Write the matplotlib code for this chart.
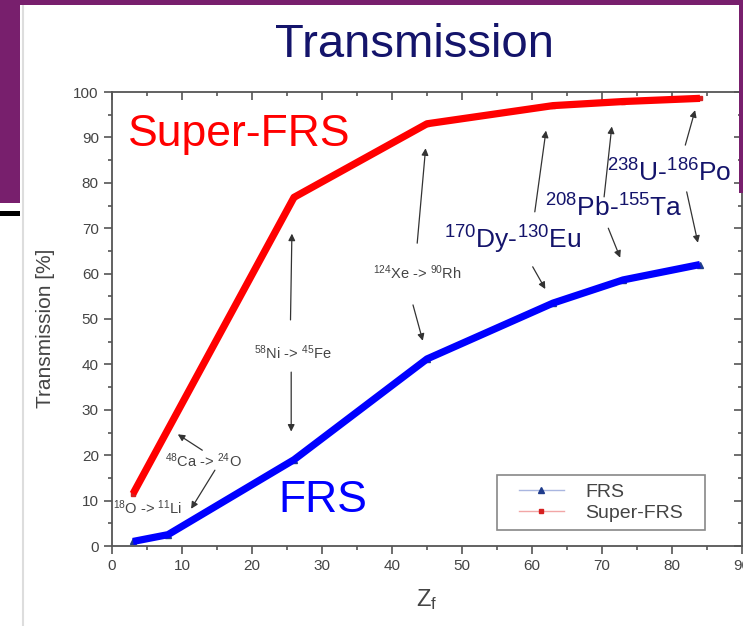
import matplotlib
matplotlib.use("Agg")
import matplotlib.pyplot as plt
from matplotlib.patches import Rectangle
from matplotlib.lines import Line2D
from matplotlib.ticker import MultipleLocator

plt.rcParams["font.family"] = ["Liberation Sans", "DejaVu Sans"]
plt.rcParams["mathtext.fontset"] = "custom"
plt.rcParams["mathtext.rm"] = "Liberation Sans"
plt.rcParams["mathtext.it"] = "Liberation Sans:italic"
plt.rcParams["mathtext.bf"] = "Liberation Sans:bold"

# transmission vs. fragment charge
z_frs = [3, 8, 26, 45, 63, 73, 84]
t_frs = [1.0, 2.5, 19.0, 41.2, 53.5, 58.6, 62.0]
z_super = [3, 26, 45, 63, 73, 84]
t_super = [11.5, 76.8, 93.0, 97.0, 97.9, 98.6]

# reaction labels: (text, x, y) and arrows: (x_tail, y_tail, x_head, y_head)
small_labels = [
    (r"$^{18}$O -> $^{11}$Li", 0.2, 7.0),
    (r"$^{48}$Ca -> $^{24}$O", 7.6, 17.4),
    (r"$^{58}$Ni -> $^{45}$Fe", 20.3, 41.2),
    (r"$^{124}$Xe -> $^{90}$Rh", 37.3, 58.8),
]
big_labels = [
    (r"$^{170}$Dy-$^{130}$Eu", 47.4, 65.4),
    (r"$^{208}$Pb-$^{155}$Ta", 61.9, 72.6),
    (r"$^{238}$U-$^{186}$Po", 70.7, 80.2),
]
arrows = [
    (12.9, 21.1, 9.4, 24.6),
    (14.7, 16.7, 11.3, 8.2),
    (25.5, 49.8, 25.7, 68.8),
    (25.6, 38.3, 25.6, 25.2),
    (43.6, 66.7, 44.8, 87.6),
    (43.0, 53.1, 44.4, 45.2),
    (60.4, 73.6, 62.0, 91.5),
    (60.1, 61.5, 61.9, 56.6),
    (70.3, 76.9, 71.4, 92.4),
    (70.9, 70.0, 72.6, 63.5),
    (81.9, 88.3, 83.3, 96.0),
    (82.1, 78.0, 83.7, 66.8),
]

PURPLE = "#781f6d"
NAVY = "#14146b"
AXIS_GREY = "#555555"
TEXT_GREY = "#444444"

fig = plt.figure(figsize=(7.43, 6.26), dpi=100, facecolor="white")
ax = fig.add_axes([112 / 743, 80 / 626, 630 / 743, 454 / 626])

# thin series with markers (legend entries), thick lines on top
ax.plot(z_frs, t_frs, color="#a9b6e0", lw=1, marker="^", ms=4,
        mfc="#1f3c8c", mec="#1f3c8c", label="FRS", zorder=2)
ax.plot(z_super, t_super, color="#f2a6a6", lw=1, marker="s", ms=3.5,
        mfc="#d62020", mec="#d62020", label="Super-FRS", zorder=2)
ax.plot(z_frs, t_frs, color="#0000ff", lw=5.2, solid_capstyle="butt", zorder=3)
ax.plot(z_super, t_super, color="#ff0000", lw=5.2, solid_capstyle="butt", zorder=3)

ax.set_xlim(0, 90)
ax.set_ylim(0, 100)
ax.xaxis.set_major_locator(MultipleLocator(10))
ax.xaxis.set_minor_locator(MultipleLocator(5))
ax.yaxis.set_major_locator(MultipleLocator(10))
ax.yaxis.set_minor_locator(MultipleLocator(5))

for spine in ax.spines.values():
    spine.set_color(AXIS_GREY)
    spine.set_linewidth(1.3)

ax.tick_params(which="both", direction="out", colors=AXIS_GREY, labelcolor=TEXT_GREY,
               labelsize=11, width=1.2, top=True, right=True)
ax.tick_params(which="major", length=6)
ax.tick_params(which="minor", length=3)
# top and right ticks point inward
for t in ax.xaxis.get_ticklines(minor=False)[1::2] + ax.xaxis.get_ticklines(minor=True)[1::2]:
    t.set_marker(3)
for t in ax.yaxis.get_ticklines(minor=False)[1::2] + ax.yaxis.get_ticklines(minor=True)[1::2]:
    t.set_marker(0)

ax.set_ylabel("Transmission [%]", fontsize=15, color=TEXT_GREY)
ax.yaxis.set_label_coords(-0.09, 0.48)
ax.set_xlabel(r"Z$_\mathregular{f}$", fontsize=17, color=TEXT_GREY, labelpad=10)

ax.text(2.3, 88, "Super-FRS", color="#ff0000", fontsize=32)
ax.text(23.7, 7.5, "FRS", color="#0000ff", fontsize=32)

for label, x, y in small_labels:
    ax.text(x, y, label, color=TEXT_GREY, fontsize=10.5)
for label, x, y in big_labels:
    ax.text(x, y, label, color=NAVY, fontsize=19)
for x0, y0, x1, y1 in arrows:
    ax.annotate("", xy=(x1, y1), xytext=(x0, y0),
                arrowprops=dict(arrowstyle="-|>", color="#333333", lw=0.9,
                                mutation_scale=10, shrinkA=0, shrinkB=0))

# legend frame drawn separately so its padding can be wider than tall
ax.add_patch(Rectangle((0.611, 0.035), 0.33, 0.121, transform=ax.transAxes,
                       fill=True, facecolor="white", edgecolor="#888888",
                       lw=1.2, zorder=4))
leg = ax.legend(loc="center", bbox_to_anchor=(0.611 + 0.165, 0.035 + 0.0605),
                fontsize=14, frameon=False, handlelength=2.3,
                labelspacing=0.15, handletextpad=1.1, borderpad=0)
leg.set_zorder(5)
for txt in leg.get_texts():
    txt.set_color(TEXT_GREY)

fig.text(415 / 743, 1 - 45 / 626, "Transmission", color=NAVY, fontsize=34,
         ha="center", va="center")

# slide frame around the chart
def px_rect(x, y, w, h, color):
    fig.add_artist(Rectangle((x / 743, 1 - (y + h) / 626), w / 743, h / 626,
                             transform=fig.transFigure, color=color, lw=0, zorder=10))

px_rect(0, 0, 743, 5, PURPLE)
px_rect(0, 0, 19.5, 203, PURPLE)
px_rect(739, 0, 4, 193, PURPLE)
px_rect(0, 211, 19.5, 5, "#000000")
fig.add_artist(Line2D([22.5 / 743, 22.5 / 743], [0, 1 - 5 / 626],
                      transform=fig.transFigure, color="#dddddd", lw=1.5, zorder=9))

fig.savefig("out.png", dpi=100, facecolor="white")
